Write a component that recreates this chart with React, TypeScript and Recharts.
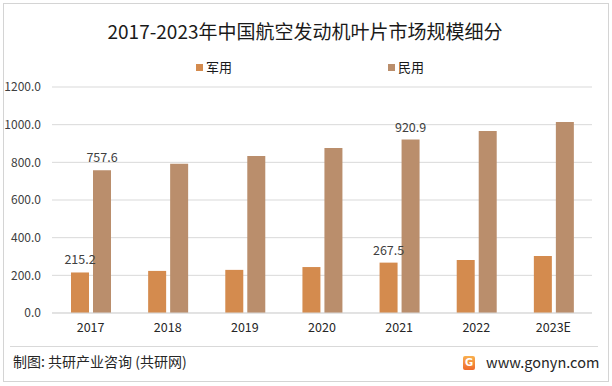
import { Bar, BarChart, CartesianGrid, LabelList, XAxis, YAxis } from "recharts";

const years = ["2017", "2018", "2019", "2020", "2021", "2022", "2023E"];
const military = [215.2, 223.5, 229.0, 244.0, 267.5, 282.0, 303.0];
const civil = [757.6, 792.0, 834.0, 876.0, 920.9, 966.0, 1014.0];
const labelledYears = ["2017", "2021"];
const yTicks = [0, 200, 400, 600, 800, 1000, 1200];

const data = years.map((year, i) => ({
  year,
  military: military[i],
  civil: civil[i]
}));

const FONT = '"Noto Sans CJK SC", "Noto Sans", sans-serif';
const MILITARY_COLOR = "#D48B4E";
const CIVIL_COLOR = "#BA8E6C";

const renderLabel = (props: any) => {
  const { x, y, width, value, index } = props;
  if (!labelledYears.includes(years[index])) return null;
  return (
    <text
      x={x + width / 2}
      y={y - 8}
      textAnchor="middle"
      fontSize={12.5}
      fill="#404040"
      fontFamily={FONT}
    >
      {Number(value).toFixed(1)}
    </text>
  );
};

function ChartLegend() {
  const item = (left: number, color: string, label: string) => (
    <span style={{ position: "absolute", left, top: 0, display: "flex", alignItems: "center", lineHeight: "18px" }}>
      <span style={{ width: 7, height: 7, background: color, marginRight: 3 }} />
      {label}
    </span>
  );
  return (
    <div style={{ position: "absolute", left: 0, top: 58, width: 612, height: 18, fontSize: 13, color: "#1a1a1a" }}>
      {item(196, MILITARY_COLOR, "军用")}
      {item(388, CIVIL_COLOR, "民用")}
    </div>
  );
}

export default function App() {
  return (
    <div style={{ position: "absolute", left: 0, top: 0, width: 612, height: 386, background: "#fff", fontFamily: FONT }}>
      <div
        style={{
          position: "absolute",
          left: 3,
          top: 3,
          width: 604,
          height: 377,
          border: "1px solid #d4d4d4"
        }}
      />
      <div
        style={{
          position: "absolute",
          left: 0,
          top: 17,
          width: 610,
          textAlign: "center",
          fontSize: 19,
          color: "#1a1a1a",
          lineHeight: "28px",
          whiteSpace: "nowrap"
        }}
      >
        2017-2023年中国航空发动机叶片市场规模细分
      </div>
      <ChartLegend />
      <BarChart
        width={612}
        height={386}
        data={data}
        margin={{ top: 87, right: 20, left: 0, bottom: 43 }}
        barSize={18}
        barGap={4}
        style={{ position: "absolute", left: 0, top: 0 }}
      >
        <CartesianGrid stroke="#d9d9d9" vertical={false} />
        <XAxis
          dataKey="year"
          axisLine={{ stroke: "#d9d9d9" }}
          tickLine={false}
          tickSize={0}
          tickMargin={10}
          height={30}
          tick={{ fontSize: 12.5, fill: "#262626", fontFamily: FONT }}
        />
        <YAxis
          domain={[0, 1200]}
          ticks={yTicks}
          axisLine={false}
          tickLine={false}
          tickSize={0}
          tickMargin={11}
          width={52}
          tickFormatter={(v) => Number(v).toFixed(1)}
          tick={{ fontSize: 12, fill: "#404040", fontFamily: FONT }}
        />
        <Bar dataKey="military" name="军用" fill={MILITARY_COLOR} isAnimationActive={false}>
          <LabelList dataKey="military" content={renderLabel} />
        </Bar>
        <Bar dataKey="civil" name="民用" fill={CIVIL_COLOR} isAnimationActive={false}>
          <LabelList dataKey="civil" content={renderLabel} />
        </Bar>
      </BarChart>
      <div style={{ position: "absolute", left: 10, top: 346, width: 588, height: 1, background: "#d9d9d9" }} />
      <div style={{ position: "absolute", left: 13, top: 351, fontSize: 14, color: "#262626", lineHeight: "20px" }}>
        制图: 共研产业咨询 (共研网)
      </div>
      <div
        style={{
          position: "absolute",
          left: 463,
          top: 356,
          width: 12,
          height: 14,
          borderRadius: 2,
          background: "linear-gradient(#f9b04f, #ef6a2c)",
          color: "#fff",
          fontSize: 10,
          fontWeight: 700,
          lineHeight: "14px",
          textAlign: "center",
          fontFamily: "DejaVu Sans, sans-serif"
        }}
      >
        G
      </div>
      <div style={{ position: "absolute", left: 486, top: 352, fontSize: 14.5, color: "#262626", lineHeight: "20px" }}>
        www.gonyn.com
      </div>
    </div>
  );
}
